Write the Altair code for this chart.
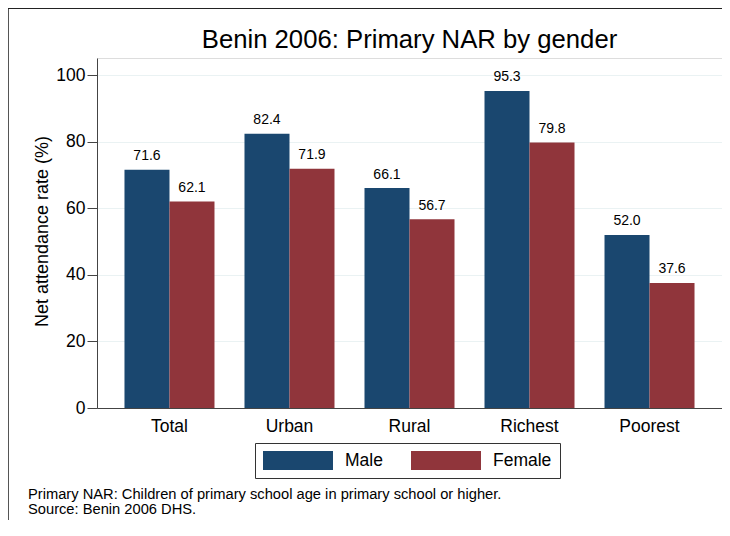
import altair as alt
import pandas as pd

categories = ["Total", "Urban", "Rural", "Richest", "Poorest"]
genders = ["Male", "Female"]
male = [71.6, 82.4, 66.1, 95.3, 52.0]
female = [62.1, 71.9, 56.7, 79.8, 37.6]
colors = ["#1a476f", "#90353b"]
title_text = "Benin 2006: Primary NAR by gender"
y_title = "Net attendance rate (%)"
y_ticks = [0, 20, 40, 60, 80, 100]
notes = [
    "Primary NAR: Children of primary school age in primary school or higher.",
    "Source: Benin 2006 DHS.",
]

rows = []
for c, m, f in zip(categories, male, female):
    rows.append({"cat": c, "gender": "Male", "value": m})
    rows.append({"cat": c, "gender": "Female", "value": f})
df = pd.DataFrame(rows)

FONT = "Liberation Sans"
W, H = 625, 350
AX = "#444444"

base = alt.Chart(df).encode(
    x=alt.X(
        "cat:N",
        sort=categories,
        scale=alt.Scale(paddingInner=0.25, paddingOuter=0.229),
        axis=alt.Axis(
            title=None, labelAngle=0, ticks=False, labelPadding=9,
            labelFontSize=17.5, labelFont=FONT, labelColor="black",
            domainColor=AX, grid=False,
        ),
    ),
    xOffset=alt.XOffset("gender:N", sort=genders,
                        scale=alt.Scale(paddingInner=0, paddingOuter=0)),
    y=alt.Y(
        "value:Q",
        scale=alt.Scale(domain=[0, 105.2], nice=False),
        axis=alt.Axis(
            values=y_ticks, title=y_title, titleFont=FONT, titleFontSize=18,
            titleFontWeight="normal", titleColor="black", titleX=-50, titleY=173,
            titleAngle=270, titleBaseline="alphabetic", titleAlign="center",
            labelFontSize=17.5, labelFont=FONT, labelColor="black", labelPadding=2,
            tickSize=10, tickColor=AX, domainColor=AX, grid=True,
            gridColor="#eaf2f3", gridWidth=1,
        ),
    ),
)

bars = base.mark_bar().encode(
    color=alt.Color(
        "gender:N",
        sort=genders,
        title=None,
        scale=alt.Scale(domain=genders, range=colors),
        legend=alt.Legend(
            orient="none", legendX=158, legendY=385, direction="horizontal",
            symbolType="M-1,-1H6.368V1H-1Z", symbolSize=361,
            symbolStrokeWidth=0, symbolOpacity=1,
            labelFontSize=17.5, labelFont=FONT, labelColor="black",
            labelOffset=63, columnPadding=28, padding=8,
            strokeColor="#333333", fillColor="white",
        ),
    )
)

labels = base.mark_text(
    dy=-9.5, baseline="alphabetic", fontSize=14, font=FONT, color="black"
).encode(text=alt.Text("value:Q", format=".1f"))

title = alt.Chart(pd.DataFrame({"t": [title_text]})).mark_text(
    align="center", baseline="alphabetic", fontSize=25.7, font=FONT, color="black"
).encode(text="t:N", x=alt.value(W / 2), y=alt.value(-10))

note1 = alt.Chart(pd.DataFrame({"t": [notes[0]]})).mark_text(
    align="left", baseline="alphabetic", fontSize=14.7, font=FONT, color="black"
).encode(text="t:N", x=alt.value(-69), y=alt.value(441))
note2 = alt.Chart(pd.DataFrame({"t": [notes[1]]})).mark_text(
    align="left", baseline="alphabetic", fontSize=14.7, font=FONT, color="black"
).encode(text="t:N", x=alt.value(-69), y=alt.value(456))

frame_left = alt.Chart(pd.DataFrame({"a": [0]})).mark_rule(
    color="#555555", strokeWidth=1
).encode(x=alt.value(-88.5), y=alt.value(-50), y2=alt.value(470))
frame_top = alt.Chart(pd.DataFrame({"a": [0]})).mark_rule(
    color="#222222", strokeWidth=1
).encode(x=alt.value(-89), x2=alt.value(625), y=alt.value(-49.5))

chart = alt.layer(bars, labels, title, note1, note2, frame_left, frame_top).properties(
    width=W,
    height=H,
    autosize=alt.AutoSizeParams(type="none"),
    padding={"left": 89, "top": 50, "right": 0, "bottom": 112},
).configure_view(stroke="transparent").configure(background="white")

chart.save("out.html", embed_options={"renderer": "svg", "actions": False})
